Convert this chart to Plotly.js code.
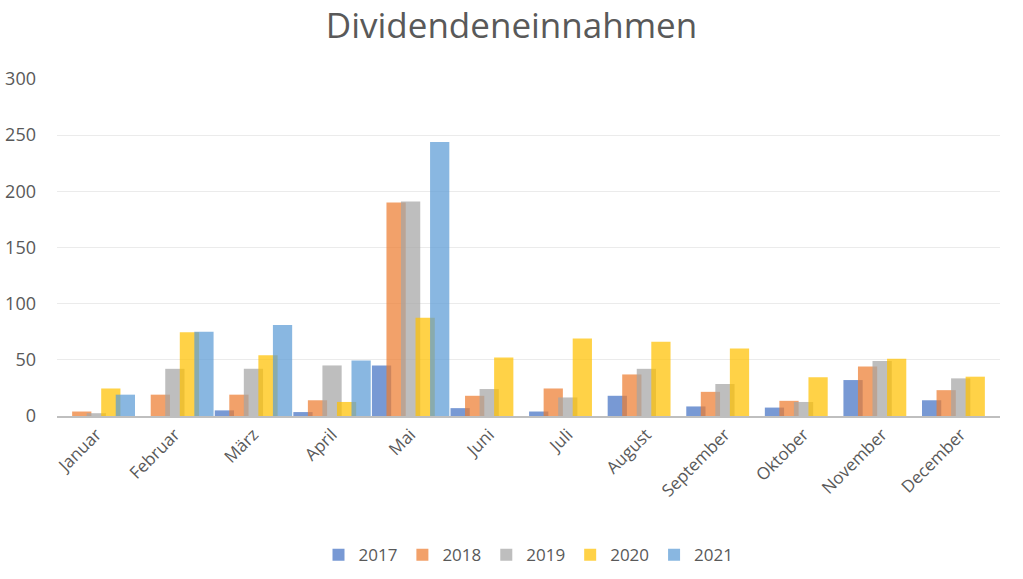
<!DOCTYPE html>
<html>
<head>
<meta charset="utf-8">
<script src="https://cdn.plot.ly/plotly-3.0.1.min.js"></script>
<style>html,body{margin:0;padding:0;background:#fff;}#chart{width:1023px;height:579px;}</style>
</head>
<body>
<div id="chart"></div>
<script>
const months = ["Januar","Februar","März","April","Mai","Juni","Juli","August","September","Oktober","November","December"];
const years = ["2017","2018","2019","2020","2021"];
const v2017 = [null, null, 5, 3.5, 45, 7, 4, 18, 8.5, 7.5, 32, 14];
const v2018 = [4, 19, 19, 14, 190, 18, 24.5, 37, 21.5, 13.5, 44, 23];
const v2019 = [2.5, 42, 42, 45, 191, 24, 16.5, 42, 28.5, 12.5, 49, 33.5];
const v2020 = [24.5, 74.5, 54, 12.5, 87.5, 52, 69, 66, 60, 34.5, 51, 35];
const v2021 = [19, 75, 81, 49.5, 244, null, null, null, null, null, null, null];
const series = [v2017, v2018, v2019, v2020, v2021];
const colors = ["rgba(68,114,196,0.72)", "rgba(237,125,49,0.72)", "rgba(165,165,165,0.72)", "rgba(255,192,0,0.72)", "rgba(91,155,213,0.72)"];

const step = 0.185, w = 0.245;
const traces = series.map((vals, i) => ({
  type: "bar",
  name: years[i],
  x: months,
  y: vals,
  width: w,
  offset: (i - 2) * step - w / 2,
  marker: {color: colors[i]},
  hoverinfo: "x+y+name"
}));

const layout = {
  width: 1023, height: 579,
  margin: {l: 57, r: 23, t: 79, b: 163},
  paper_bgcolor: "#fff", plot_bgcolor: "#fff",
  barmode: "overlay",
  font: {family: "Open Sans, Liberation Sans, sans-serif", color: "#595959"},
  title: {text: "Dividendeneinnahmen", x: 0.5, xanchor: "center", y: 0.955, yanchor: "middle",
          font: {size: 35, color: "#595959", family: "Open Sans, sans-serif"}},
  xaxis: {
    type: "category",
    tickangle: -45,
    tickfont: {size: 17, color: "#595959"},
    showgrid: false, automargin: false,
    showline: true, linecolor: "#bfbfbf", linewidth: 2,
    ticks: "", range: [-0.5, 11.5]
  },
  yaxis: {
    range: [0, 300],
    dtick: 50, automargin: false,
    tickfont: {size: 18, color: "#595959"},
    showgrid: true, gridcolor: "#ebebeb", gridwidth: 1,
    zeroline: false, showline: false, ticks: "", ticklabelstandoff: 20
  },
  legend: {orientation: "h", x: 0.5, xanchor: "center", yref: "container", y: 0.041, yanchor: "middle",
           font: {size: 17, color: "#595959"}, itemwidth: 30, traceorder: "normal"},
  showlegend: true
};

Plotly.newPlot("chart", traces, layout, {displayModeBar: false, staticPlot: true});
</script>
</body>
</html>
